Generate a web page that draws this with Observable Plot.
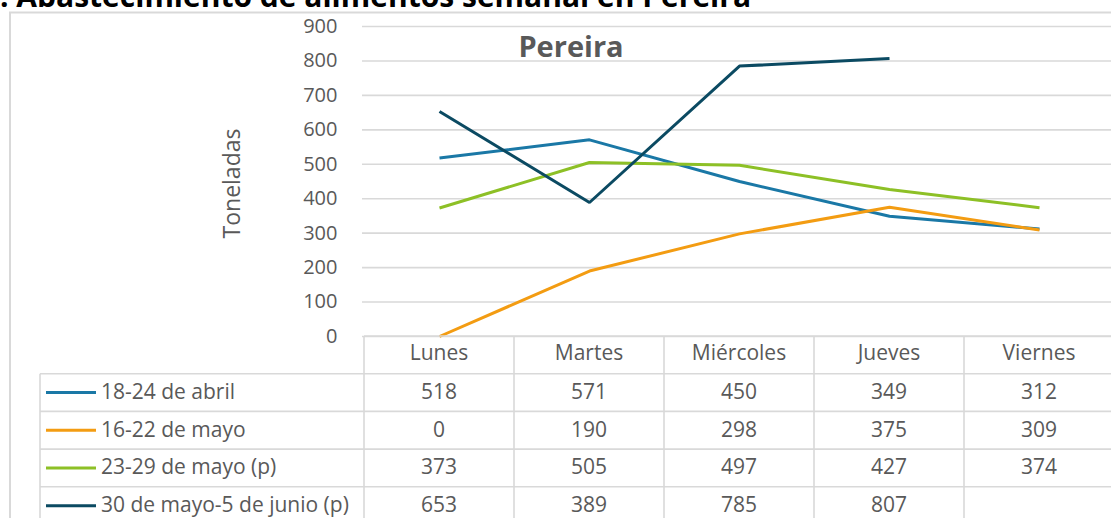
<!DOCTYPE html>
<html>
<head>
<meta charset="utf-8">
<script src="https://cdn.jsdelivr.net/npm/d3@7"></script>
<script src="https://cdn.jsdelivr.net/npm/@observablehq/plot@0.6"></script>
<style>
  html, body { margin: 0; padding: 0; background: #fff; overflow: hidden; }
  #wrap { position: relative; width: 1111px; height: 518px; overflow: hidden; }
  #title { position: absolute; left: 0; top: -19px; font-family: "Open Sans", sans-serif; font-weight: 700; font-size: 30px; line-height: 30px; color: #000; white-space: nowrap; z-index: 2; }
  #chart { position: absolute; left: 0; top: 0; }
</style>
</head>
<body>
<div id="wrap">
  <div id="title">. Abastecimiento de alimentos semanal en Pereira</div>
  <div id="chart"></div>
</div>
<script>
const days = ["Lunes", "Martes", "Miércoles", "Jueves", "Viernes"];
const seriesNames = ["18-24 de abril", "16-22 de mayo", "23-29 de mayo (p)", "30 de mayo-5 de junio (p)"];
const seriesColors = ["#1a78a6", "#f39c12", "#8dc026", "#0b4a62"];
const abril18_24 = [518, 571, 450, 349, 312];
const mayo16_22 = [0, 190, 298, 375, 309];
const mayo23_29 = [373, 505, 497, 427, 374];
const mayo30_junio5 = [653, 389, 785, 807, null];
const yTicks = [0, 100, 200, 300, 400, 500, 600, 700, 800, 900];

const seriesValues = [abril18_24, mayo16_22, mayo23_29, mayo30_junio5];
const rows = [];
seriesNames.forEach((s, i) => {
  seriesValues[i].forEach((v, j) => {
    if (v !== null) rows.push({series: s, day: days[j], value: v});
  });
});

const W = 1111, H = 518;
const font = "Open Sans, sans-serif";
const gray = "#595959";
const lineCol = "#d9d9d9";

const plot = Plot.plot({
  width: W,
  height: H,
  marginLeft: 362,
  marginRight: -4,
  marginTop: 26,
  marginBottom: 182,
  style: {fontFamily: font, fontSize: "20px", color: gray, background: "transparent", overflow: "visible"},
  x: {type: "point", domain: days, padding: 0.5, axis: null},
  y: {domain: [0, 900], axis: null},
  color: {domain: seriesNames, range: seriesColors},
  marks: [
    Plot.ruleY(yTicks, {stroke: lineCol, strokeWidth: 1.6}),
    Plot.axisY({ticks: yTicks, tickSize: 0, tickPadding: 25, label: null, fontSize: 20, fill: gray}),
    Plot.text(["Toneladas"], {frameAnchor: "left", textAnchor: "middle", dx: -130, dy: 2, rotate: -90, fontSize: 23, fill: gray}),
    Plot.text(["Pereira"], {frameAnchor: "top", dx: -168, dy: 10, fontSize: 29, fontWeight: 700, fill: gray}),
    Plot.line(rows, {x: "day", y: "value", z: "series", stroke: "series", strokeWidth: 3, strokeLinejoin: "miter", strokeLinecap: "butt"})
  ]
});

document.getElementById("chart").appendChild(plot);

// Data table under the plot, aligned on Plot's x scale
const xs = plot.scale("x");
const step = xs.apply(days[1]) - xs.apply(days[0]);
const colLeft = d => xs.apply(d) - step / 2;
const svg = d3.select(plot);
const g = svg.append("g").attr("font-family", font).attr("font-size", 21).attr("fill", gray);

const tableTop = 336;       // y(0)
const rowH = 37.7;
const legendLeft = 40;
const firstCol = colLeft(days[0]);
const lastRight = colLeft(days[days.length - 1]) + step;

// horizontal lines
g.append("line").attr("x1", firstCol).attr("x2", lastRight).attr("y1", tableTop).attr("y2", tableTop)
  .attr("stroke", lineCol).attr("stroke-width", 1.6);
for (let r = 1; r <= 5; r++) {
  const y = tableTop + r * rowH;
  g.append("line").attr("x1", legendLeft).attr("x2", lastRight).attr("y1", y).attr("y2", y)
    .attr("stroke", lineCol).attr("stroke-width", 1.6);
}
// vertical lines
g.append("line").attr("x1", legendLeft).attr("x2", legendLeft).attr("y1", tableTop + rowH).attr("y2", tableTop + 6 * rowH)
  .attr("stroke", lineCol).attr("stroke-width", 1.6);
days.forEach(d => {
  const x = colLeft(d);
  g.append("line").attr("x1", x).attr("x2", x).attr("y1", tableTop).attr("y2", tableTop + 6 * rowH)
    .attr("stroke", lineCol).attr("stroke-width", 1.6);
});
// header
days.forEach(d => {
  g.append("text").attr("x", xs.apply(d)).attr("y", tableTop + rowH / 2 - 1).attr("dy", "0.3em")
    .attr("text-anchor", "middle").text(d);
});
// rows
seriesNames.forEach((s, i) => {
  const yc = tableTop + (i + 1.5) * rowH;
  g.append("line").attr("x1", 46).attr("x2", 96).attr("y1", yc).attr("y2", yc)
    .attr("stroke", seriesColors[i]).attr("stroke-width", 3);
  g.append("text").attr("x", 101).attr("y", yc).attr("dy", "0.3em").attr("text-anchor", "start").text(s);
  seriesValues[i].forEach((v, j) => {
    if (v === null) return;
    g.append("text").attr("x", xs.apply(days[j])).attr("y", yc).attr("dy", "0.3em")
      .attr("text-anchor", "middle").text(v);
  });
});

// outer chart border
svg.insert("rect", ":first-child").attr("x", 10).attr("y", 12.5).attr("width", W + 20).attr("height", H + 20)
  .attr("fill", "none").attr("stroke", lineCol).attr("stroke-width", 2);
</script>
</body>
</html>
